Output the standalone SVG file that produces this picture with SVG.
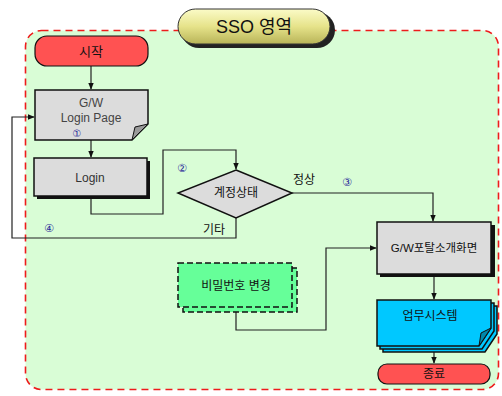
<svg xmlns="http://www.w3.org/2000/svg" width="502" height="396" viewBox="0 0 502 396">
  <style>
    .ko { font-family: "Liberation Sans", "Noto Sans CJK KR", sans-serif; font-size: 12px; fill: #111; text-anchor: middle; }
    .num { font-family: "DejaVu Sans", "Noto Sans CJK KR", sans-serif; font-size: 11px; fill: #2a2a9a; text-anchor: middle; }
    .line { fill: none; stroke: #222; stroke-width: 1.2; }
    .gray { fill: #dcdcdc; stroke: #111; stroke-width: 1.5; }
    .shadow { fill: #111; }
  </style>
  <defs>
    <marker id="arrow" viewBox="0 0 10 10" refX="9" refY="5" markerWidth="6" markerHeight="6" orient="auto">
      <path d="M0,1 L10,5 L0,9 z" fill="#111"/>
    </marker>
    <linearGradient id="title" x1="0" y1="0" x2="0" y2="1">
      <stop offset="0" stop-color="#fbfbc8"/>
      <stop offset="0.5" stop-color="#e6e38a"/>
      <stop offset="1" stop-color="#b8b458"/>
    </linearGradient>
  </defs>

  <rect width="502" height="396" fill="#ffffff"/>

  <!-- SSO region -->
  <g id="region">
    <rect x="25.5" y="30.5" width="473" height="359" rx="16" fill="#d9fdd6" stroke="#ee1c1c" stroke-width="1.6" stroke-dasharray="7,5"/>
  </g>

  <!-- Title -->
  <g id="title-badge">
    <rect x="181" y="12" width="154" height="36" rx="18" fill="#222"/>
    <rect x="178" y="9" width="152" height="35" rx="17.5" fill="url(#title)" stroke="#333" stroke-width="1"/>
    <text x="254" y="33" class="ko" style="font-size:18px">SSO 영역</text>
  </g>

  <!-- Connectors -->
  <g id="connectors">
    <line class="line" x1="91" y1="66" x2="91" y2="89" marker-end="url(#arrow)"/>
    <line class="line" x1="91" y1="140" x2="91" y2="157" marker-end="url(#arrow)"/>
    <polyline class="line" points="91,197 91,214 163,214 163,150 236,150 236,169" marker-end="url(#arrow)"/>
    <polyline class="line" points="292,193 433,193 433,221" marker-end="url(#arrow)"/>
    <polyline class="line" points="236,218 236,238 12,238 12,117 34,117" marker-end="url(#arrow)"/>
    <polyline class="line" points="236,312 236,330 326,330 326,248 376,248" marker-end="url(#arrow)"/>
    <line class="line" x1="434" y1="275" x2="434" y2="299" marker-end="url(#arrow)"/>
    <line class="line" x1="434" y1="349" x2="434" y2="363" marker-end="url(#arrow)"/>
  </g>

  <!-- Start -->
  <g id="start">
    <rect x="35" y="36" width="113" height="30" rx="12" fill="#ff5252" stroke="#111" stroke-width="1.2"/>
    <text x="91" y="56" class="ko" style="font-size:13px">시작</text>
  </g>

  <!-- G/W Login Page (document) -->
  <g id="login-page">
    <path class="gray" d="M35,90 H148 V124 L132,140 H35 Z"/>
    <path d="M132,140 L135,127 L148,124 Z" fill="#9a9a9a" stroke="#111" stroke-width="1"/>
    <text x="91" y="107" class="ko" style="fill:#444">G/W</text>
    <text x="91" y="122" class="ko" style="fill:#444">Login Page</text>
    <text x="77" y="137" class="num" style="font-size:10px">①</text>
  </g>

  <!-- Login -->
  <g id="login">
    <rect class="shadow" x="37" y="161" width="113" height="38"/>
    <rect class="gray" x="34" y="158" width="113" height="38"/>
    <text x="90" y="182" class="ko" style="fill:#333">Login</text>
  </g>

  <!-- Account status decision -->
  <g id="account-status">
    <path class="gray" d="M236,170 L292,193 L236,218 L178,193 Z"/>
    <text x="236" y="197" class="ko">계정상태</text>
    <text x="182" y="172" class="num">②</text>
    <text x="304" y="184" class="ko">정상</text>
    <text x="347" y="186" class="num">③</text>
    <text x="214" y="234" class="ko">기타</text>
    <text x="49" y="232" class="num">④</text>
  </g>

  <!-- G/W portal screen -->
  <g id="portal">
    <rect class="shadow" x="380" y="225" width="115" height="52"/>
    <rect class="gray" x="377" y="222" width="114" height="52"/>
    <text x="434" y="252" class="ko" style="font-size:11.5px">G/W포탈소개화면</text>
  </g>

  <!-- Password change -->
  <g id="password-change">
    <rect x="183" y="268" width="114" height="44" fill="#66ff99" stroke="#111" stroke-width="1.5" stroke-dasharray="6,3"/>
    <rect x="178" y="263" width="114" height="44" fill="#66ff99" stroke="#111" stroke-width="1.5" stroke-dasharray="6,3"/>
    <text x="236" y="290" class="ko">비밀번호 변경</text>
  </g>

  <!-- Business system (multi-document) -->
  <g id="business-system">
    <path d="M383,306 H497 V334 L485,352 H383 Z" fill="#00c8ff" stroke="#111" stroke-width="1.5"/>
    <path d="M380,303 H494 V331 L482,349 H380 Z" fill="#00c8ff" stroke="#111" stroke-width="1.5"/>
    <path d="M377,300 H491 V328 L479,346 H377 Z" fill="#00c8ff" stroke="#111" stroke-width="1.5"/>
    <path d="M479,346 L481,333 L491,328 Z" fill="#0088aa" stroke="#111" stroke-width="1"/>
    <text x="430" y="320" class="ko">업무시스템</text>
  </g>

  <!-- End -->
  <g id="end">
    <rect x="378" y="364" width="112" height="20" rx="9" fill="#ff5252" stroke="#111" stroke-width="1.2"/>
    <text x="434" y="378" class="ko">종료</text>
  </g>
</svg>
